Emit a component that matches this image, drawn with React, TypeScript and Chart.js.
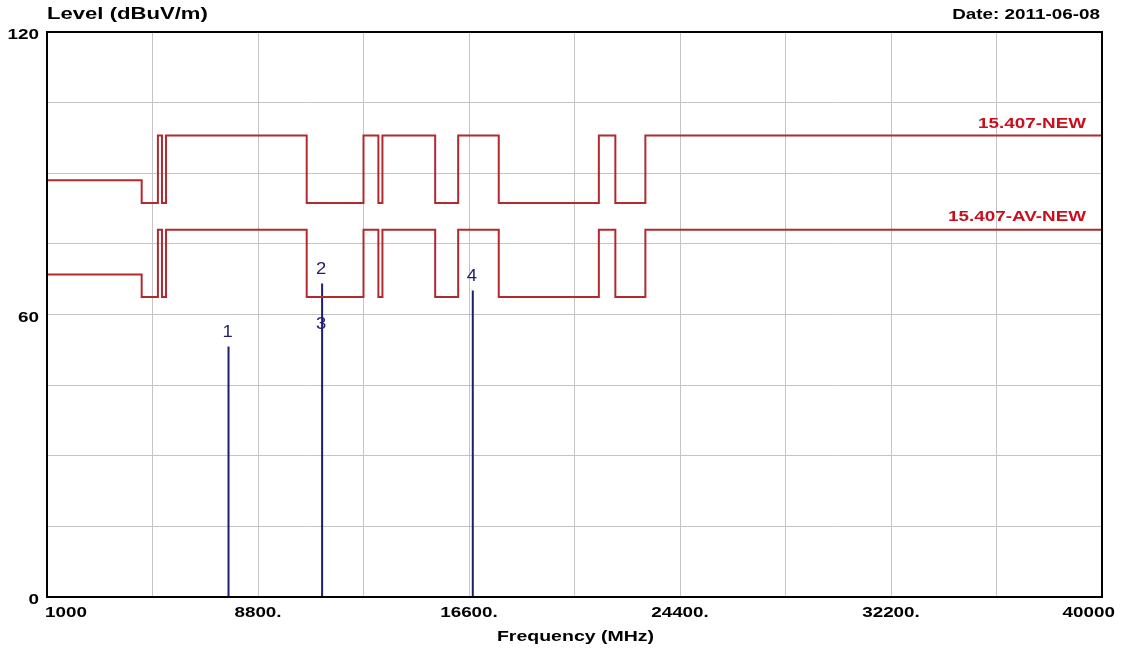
import React, { useEffect, useRef } from "react";
import { Chart, registerables } from "chart.js";

Chart.register(...registerables);

// Limit line break frequencies (MHz) and levels (dBuV/m); each level holds until the next frequency
const limitFreqs = [1000, 4500, 5100, 5250, 5400, 10600, 12700, 13250, 13400, 15350, 16200, 17700, 21400, 22010, 23120, 40000];
const peakLimit = [88.5, 83.7, 98, 83.7, 98, 83.7, 98, 83.7, 98, 83.7, 98, 83.7, 98, 83.7, 98, 98];
const avgLimit = [68.5, 63.7, 78, 63.7, 78, 63.7, 78, 63.7, 78, 63.7, 78, 63.7, 78, 63.7, 78, 78];
const limitNames = ["15.407-NEW", "15.407-AV-NEW"];

// Marker peaks
const markerFreqs = [7710, 11170, 11170, 16740];
const markerLevels = [53.2, 66.6, 54.8, 65.1];
const markerLabels = ["1", "2", "3", "4"];

// Axes
const xTickValues = [1000, 8800, 16600, 24400, 32200, 40000];
const xTickLabels = ["1000", "8800.", "16600.", "24400.", "32200.", "40000"];
const yTickValues = [0, 60, 120];
const yTickLabels = ["0", "60", "120"];

const yTitle = "Level (dBuV/m)";
const xTitle = "Frequency (MHz)";
const dateText = "Date: 2011-06-08";

const LIMIT_COLOR = "#b02a30";
const MARKER_COLOR = "#1f1f6b";
const SX = 1.3;

function drawText(
  ctx: CanvasRenderingContext2D,
  text: string,
  x: number,
  y: number,
  align: "left" | "right" | "center",
  font: string,
  color: string,
  sx: number = SX
) {
  ctx.save();
  ctx.font = font;
  ctx.fillStyle = color;
  ctx.textAlign = "left";
  ctx.textBaseline = "middle";
  const w = ctx.measureText(text).width * sx;
  let left = x;
  if (align === "right") left = x - w;
  else if (align === "center") left = x - w / 2;
  ctx.translate(left, y);
  ctx.scale(sx, 1);
  ctx.fillText(text, 0, 0);
  ctx.restore();
}

const decorPlugin = {
  id: "decor",
  afterDraw(chart: any) {
    const ctx: CanvasRenderingContext2D = chart.ctx;
    const area = chart.chartArea;
    const xs = chart.scales.x;
    const ys = chart.scales.y;
    const boldFont = "bold 14.5px 'Liberation Sans', Arial, sans-serif";

    // frame
    ctx.save();
    ctx.strokeStyle = "#000";
    ctx.lineWidth = 2;
    ctx.strokeRect(area.left, area.top, area.right - area.left, area.bottom - area.top);
    ctx.restore();

    // titles
    drawText(ctx, yTitle, area.left, 14.5, "left", "bold 17px 'Liberation Sans', Arial, sans-serif", "#000");
    drawText(ctx, dateText, area.right - 2, 14.5, "right", "bold 14.5px 'Liberation Sans', Arial, sans-serif", "#000");
    drawText(ctx, xTitle, (area.left + area.right) / 2 + 1, 637, "center", "bold 15px 'Liberation Sans', Arial, sans-serif", "#000");

    // y tick labels
    yTickValues.forEach((v, i) => {
      const py = ys.getPixelForValue(v);
      drawText(ctx, yTickLabels[i], area.left - 8, py + 3, "right", boldFont, "#000");
    });

    // x tick labels
    xTickValues.forEach((v, i) => {
      const px = xs.getPixelForValue(v);
      if (i === 0) drawText(ctx, xTickLabels[i], px - 2, area.bottom + 16, "left", boldFont, "#000");
      else if (i === xTickValues.length - 1) drawText(ctx, xTickLabels[i], px + 13, area.bottom + 16, "right", boldFont, "#000");
      else drawText(ctx, xTickLabels[i], px, area.bottom + 16, "center", boldFont, "#000");
    });

    // limit names
    const lastPeak = peakLimit[peakLimit.length - 1];
    const lastAvg = avgLimit[avgLimit.length - 1];
    drawText(ctx, limitNames[0], area.right - 16, ys.getPixelForValue(lastPeak) - 12, "right", boldFont, "#c8101c");
    drawText(ctx, limitNames[1], area.right - 16, ys.getPixelForValue(lastAvg) - 13, "right", boldFont, "#c8101c");

    // marker labels
    markerFreqs.forEach((f, i) => {
      const px = xs.getPixelForValue(f);
      const py = ys.getPixelForValue(markerLevels[i]);
      drawText(ctx, markerLabels[i], px - 1, py - 14, "center", "16px 'Liberation Sans', Arial, sans-serif", MARKER_COLOR, 1.15);
    });
  },
};

export default function App() {
  const ref = useRef<HTMLCanvasElement | null>(null);

  useEffect(() => {
    if (!ref.current) return;
    const markerData: { x: number; y: number | null }[] = [];
    markerFreqs.forEach((f, i) => {
      markerData.push({ x: f, y: 0 });
      markerData.push({ x: f, y: markerLevels[i] });
      markerData.push({ x: f, y: null });
    });

    const chart = new Chart(ref.current, {
      type: "line",
      data: {
        datasets: [
          {
            label: limitNames[0],
            data: limitFreqs.map((f, i) => ({ x: f, y: peakLimit[i] })),
            stepped: "before",
            borderColor: LIMIT_COLOR,
            borderWidth: 2,
            pointRadius: 0,
            fill: false,
          },
          {
            label: limitNames[1],
            data: limitFreqs.map((f, i) => ({ x: f, y: avgLimit[i] })),
            stepped: "before",
            borderColor: LIMIT_COLOR,
            borderWidth: 2,
            pointRadius: 0,
            fill: false,
          },
          {
            label: "markers",
            data: markerData as any,
            spanGaps: false,
            borderColor: MARKER_COLOR,
            borderWidth: 2,
            pointRadius: 0,
            fill: false,
          },
        ],
      },
      options: {
        responsive: false,
        animation: false,
        devicePixelRatio: 1,
        layout: { padding: { left: 47, top: 32, right: 29, bottom: 56 } },
        plugins: { legend: { display: false }, tooltip: { enabled: false } },
        scales: {
          x: {
            type: "linear",
            min: 1000,
            max: 40000,
            ticks: { display: false, stepSize: 3900 },
            grid: { color: "#c4c4c4", lineWidth: 1, drawTicks: false },
            border: { display: false },
          },
          y: {
            type: "linear",
            min: 0,
            max: 120,
            ticks: { display: false, stepSize: 15 },
            grid: { color: "#c4c4c4", lineWidth: 1, drawTicks: false },
            border: { display: false },
          },
        },
      },
      plugins: [decorPlugin],
    });
    return () => chart.destroy();
  }, []);

  return (
    <div style={{ position: "fixed", left: 0, top: 0, width: 1131, height: 653, background: "#fff" }}>
      <canvas ref={ref} width={1131} height={653} style={{ width: 1131, height: 653, display: "block" }} />
    </div>
  );
}
